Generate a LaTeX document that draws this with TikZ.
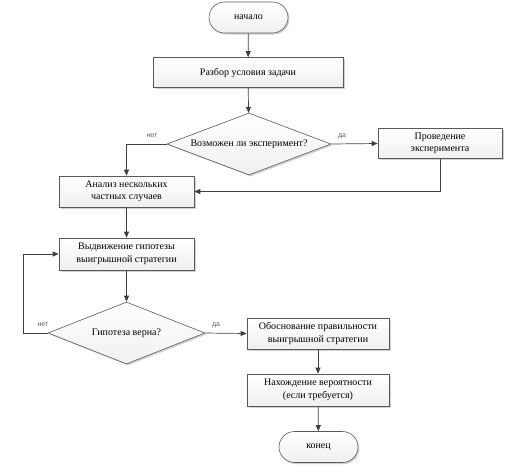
\documentclass[tikz,border=0pt]{standalone}
\usepackage{fontspec}
\setmainfont{Liberation Serif}
\newfontfamily\lblfont{Liberation Sans}
\usetikzlibrary{shapes.geometric,shapes.misc,shadows,arrows.meta}
\definecolor{edge}{HTML}{404040}
\definecolor{boxline}{HTML}{595959}
\tikzset{
  x=1pt, y=-1pt,
  base/.style={draw=boxline, line width=0.6pt, top color=white, bottom color=gray!12,
    drop shadow={shadow xshift=1.5pt, shadow yshift=-1.5pt, fill=gray!70, opacity=0.5},
    font=\fontsize{10}{12.5}\selectfont, align=center, inner sep=0pt},
  procbox/.style={base, rectangle, minimum width=#1, minimum height=30pt},
  termbox/.style={base, rounded rectangle, minimum width=79pt, minimum height=31pt},
  decbox/.style={base, diamond, aspect=2.55, minimum width=#1, minimum height=62pt, inner sep=0pt},
  conn/.style={draw=edge, line width=0.7pt, -{Triangle[length=6pt,width=5pt]}},
  lbl/.style={font=\lblfont\fontsize{7}{8}\selectfont, text=gray!75!black}
}
\begin{document}
\begin{tikzpicture}
\useasboundingbox (0,0) rectangle (506,467);
\node[termbox] (start) at (248.5,17.5) {начало};
\node[procbox=190pt] (razbor) at (248,72.5) {Разбор условия задачи};
\node[decbox=164pt] (d1) at (249,144) {Возможен ли эксперимент?};
\node[procbox=124pt] (exp) at (440,143.5) {Проведение\\эксперимента};
\node[procbox=135pt, minimum height=31pt] (anal) at (126.5,191.5) {Анализ нескольких\\частных случаев};
\node[procbox=135pt, minimum height=32pt] (hyp) at (126.5,254) {Выдвижение гипотезы\\выигрышной стратегии};
\node[decbox=157pt] (d2) at (126.5,333) {Гипотеза верна?};
\node[procbox=142pt, minimum height=31pt] (just) at (318,333.5) {Обоснование правильности\\выигрышной стратегии};
\node[procbox=142pt, minimum height=32pt] (prob) at (318,390) {Нахождение вероятности\\(если требуется)};
\node[termbox] (end) at (318.5,447) {конец};

\draw[conn] (start) -- (razbor);
\draw[conn] (razbor) -- (d1);
\draw[conn] (d1.east) -- (exp.west);
\node[lbl] (da1) at (342,136) {да};
\draw[conn] (d1.west) -| (anal.north);
\node[lbl] (net1) at (152,136) {нет};
\draw[conn] (exp.south) |- (anal.east);
\draw[conn] (anal) -- (hyp);
\draw[conn] (hyp) -- (d2);
\coordinate (loop) at (23,333);
\draw[conn] (d2.west) -- (loop) |- (hyp.west);
\node[lbl] (net2) at (43,325) {нет};
\draw[conn] (d2.east) -- (just.west);
\node[lbl] (da2) at (216,325) {да};
\draw[conn] (just) -- (prob);
\draw[conn] (prob) -- (end);
\end{tikzpicture}
\end{document}
